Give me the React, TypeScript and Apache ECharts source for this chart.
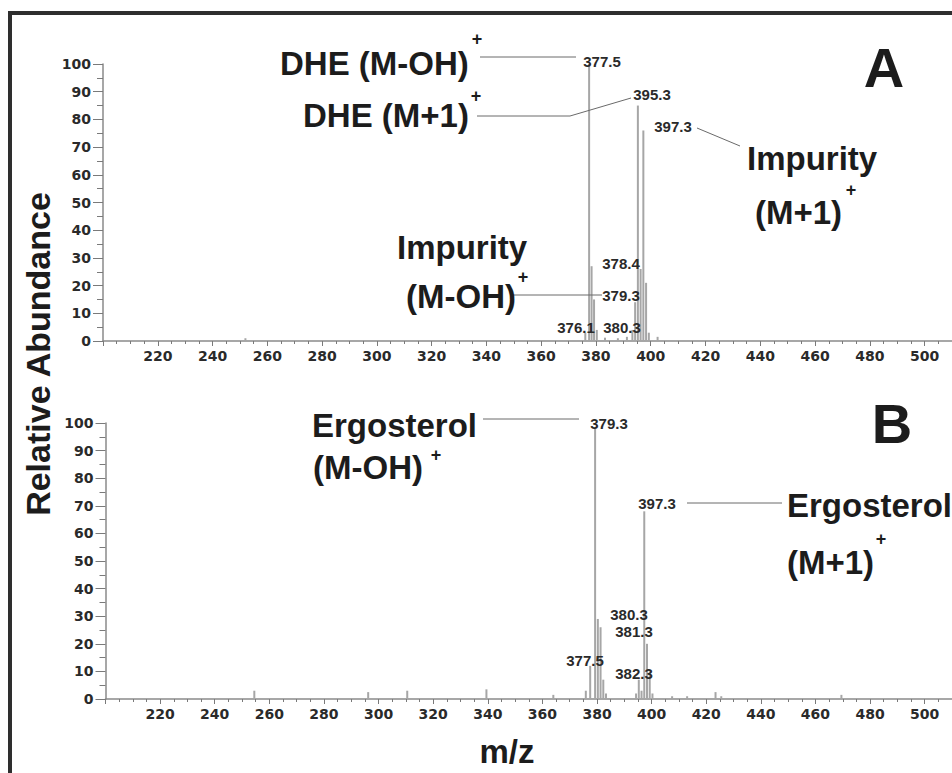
import React, { useEffect, useRef } from "react";
import * as echarts from "echarts";

// ---------- data ----------
// Panel A: DHE sample (m/z, relative abundance %)
const mzA = [252.0, 376.1, 377.5, 378.4, 379.3, 380.3, 383.3, 388.0, 391.3, 393.3, 394.3, 395.3, 396.3, 397.3, 398.3, 399.3, 402.5];
const intA = [1, 3, 100, 27, 15, 4, 1.2, 1, 1.5, 4, 14, 85, 26, 76, 21, 3, 1.5];

// Panel B: Ergosterol standard
const mzB = [254.5, 296.2, 310.5, 339.5, 364.0, 375.9, 377.5, 379.3, 380.3, 381.3, 382.3, 383.3, 394.3, 395.3, 396.3, 397.3, 398.3, 399.3, 400.3, 407.5, 413.0, 423.4, 425.5, 469.5];
const intB = [3, 2.5, 3, 3.5, 1.5, 3, 12, 98, 29, 26, 7, 2, 2, 7, 3, 68, 20, 10, 2, 1, 1, 2.5, 1, 1.5];

// axis ranges
const X_MIN = 200;
const X_MAX = 510;
const X_STEP = 20;
const Y_MIN = 0;
const Y_MAX = 100;
const Y_STEP = 10;

// peak labels (text)
const peakLabelsA = ["377.5", "395.3", "397.3", "378.4", "379.3", "380.3", "376.1"];
const peakLabelsB = ["379.3", "380.3", "381.3", "377.5", "382.3", "397.3"];

const FONT = '"Liberation Sans", Arial, Helvetica, sans-serif';
const AXFONT = '"DejaVu Sans", Verdana, sans-serif';

function txt(text: string, x: number, y: number, size: number, align: string = "left", extra: any = {}) {
  return {
    type: "text",
    x,
    y,
    z: 100,
    style: {
      text,
      font: `bold ${size}px ${FONT}`,
      fill: "#1c1c1c",
      textAlign: align,
      textVerticalAlign: "middle",
      align,
      verticalAlign: "middle",
    },
    ...extra,
  };
}

function peakTxt(text: string, x: number, y: number) {
  return {
    type: "text",
    x,
    y,
    z: 100,
    style: {
      text,
      font: `bold 15px ${FONT}`,
      fill: "#2a2a2a",
      textAlign: "center",
      textVerticalAlign: "middle",
      align: "center",
      verticalAlign: "middle",
    },
  };
}

function seg(x1: number, y1: number, x2: number, y2: number) {
  return {
    type: "line",
    z: 90,
    shape: { x1, y1, x2, y2 },
    style: { stroke: "#6a6a6a", lineWidth: 1 },
  };
}

function xAxisCfg(gridIndex: number) {
  return {
    type: "value",
    gridIndex,
    min: X_MIN,
    max: X_MAX,
    interval: X_STEP,
    axisLine: { show: true, onZero: false, lineStyle: { color: "#8a8a8a", width: 1.5 } },
    axisTick: { show: true, inside: false, length: 5, lineStyle: { color: "#7a7a7a", width: 1 } },
    minorTick: { show: true, splitNumber: 4, length: 3, lineStyle: { color: "#7a7a7a", width: 1 } },
    splitLine: { show: false },
    minorSplitLine: { show: false },
    axisLabel: {
      show: true,
      showMinLabel: false,
      showMaxLabel: false,
      margin: 8,
      color: "#2a2a2a",
      fontWeight: "bold",
      fontSize: 14,
      fontFamily: AXFONT,
    },
  };
}

function yAxisCfg(gridIndex: number) {
  return {
    type: "value",
    gridIndex,
    min: Y_MIN,
    max: Y_MAX,
    interval: Y_STEP,
    axisLine: { show: true, lineStyle: { color: "#8a8a8a", width: 1.5 } },
    axisTick: { show: true, inside: false, length: 10, lineStyle: { color: "#7a7a7a", width: 1 } },
    minorTick: { show: true, splitNumber: 2, length: 6, lineStyle: { color: "#7a7a7a", width: 1 } },
    splitLine: { show: false },
    minorSplitLine: { show: false },
    axisLabel: {
      show: true,
      margin: 12,
      color: "#2a2a2a",
      fontWeight: "bold",
      fontSize: 14,
      fontFamily: AXFONT,
    },
  };
}

export default function App() {
  const ref = useRef<HTMLDivElement>(null);

  useEffect(() => {
    if (!ref.current) return;
    const chart = echarts.init(ref.current, null, { renderer: "svg" });

    const dataA = mzA.map((m, i) => [m, intA[i]]);
    const dataB = mzB.map((m, i) => [m, intB[i]]);

    const graphics: any[] = [
      // outer frame
      {
        type: "rect",
        z: 80,
        shape: { x: 10, y: 13, width: 1000, height: 820 },
        style: { fill: "none", stroke: "#2e2e2e", lineWidth: 4 },
      },
      // axis titles
      txt("Relative Abundance", 38, 354, 34, "center", { rotation: Math.PI / 2 }),
      txt("m/z", 507, 751, 33, "center"),
      // panel letters
      txt("A", 884, 67, 56, "center"),
      txt("B", 892, 423, 56, "center"),

      // ---- Panel A annotations ----
      txt("DHE (M-OH)", 280, 63, 33),
      txt("+", 477, 39, 18, "center"),
      seg(480, 57, 576, 57),
      peakTxt(peakLabelsA[0], 602, 61),

      txt("DHE (M+1)", 303, 115, 33),
      txt("+", 476, 96, 18, "center"),
      {
        type: "polyline",
        z: 90,
        shape: { points: [[477, 116], [570, 116], [631, 98]] },
        style: { stroke: "#6a6a6a", lineWidth: 1, fill: "none" },
      },
      peakTxt(peakLabelsA[1], 652, 94),
      peakTxt(peakLabelsA[2], 673, 126),
      seg(697, 128, 740, 146),
      txt("Impurity", 747, 158, 33),
      txt("(M+1)", 755, 212, 33),
      txt("+", 851, 190, 18, "center"),

      txt("Impurity", 397, 247, 33),
      txt("(M-OH)", 406, 296, 33),
      txt("+", 523, 277, 18, "center"),
      seg(513, 295, 602, 295),
      peakTxt(peakLabelsA[3], 621, 263),
      peakTxt(peakLabelsA[4], 621, 295),
      peakTxt(peakLabelsA[5], 622, 327),
      peakTxt(peakLabelsA[6], 576, 327),

      // ---- Panel B annotations ----
      txt("Ergosterol", 312, 425, 33),
      txt("(M-OH)", 313, 467, 33),
      txt("+", 436, 455, 18, "center"),
      seg(483, 419, 579, 419),
      peakTxt(peakLabelsB[0], 609, 423),
      peakTxt(peakLabelsB[1], 629, 614),
      peakTxt(peakLabelsB[2], 634, 631),
      peakTxt(peakLabelsB[3], 585, 660),
      peakTxt(peakLabelsB[4], 634, 673),
      peakTxt(peakLabelsB[5], 657, 503),
      seg(687, 503, 782, 503),
      txt("Ergosterol", 787, 505, 33),
      txt("(M+1)", 787, 562, 33),
      txt("+", 881, 539, 18, "center"),
    ];

    chart.setOption({
      animation: false,
      backgroundColor: "#ffffff",
      grid: [
        { left: 103, top: 64, width: 868, height: 277, containLabel: false },
        { left: 105.5, top: 423, width: 868, height: 276, containLabel: false },
      ],
      xAxis: [xAxisCfg(0), xAxisCfg(1)],
      yAxis: [yAxisCfg(0), yAxisCfg(1)],
      series: [
        {
          type: "bar",
          xAxisIndex: 0,
          yAxisIndex: 0,
          data: dataA,
          barWidth: 2,
          itemStyle: { color: "#a6a6a6" },
          silent: true,
        },
        {
          type: "bar",
          xAxisIndex: 1,
          yAxisIndex: 1,
          data: dataB,
          barWidth: 2,
          itemStyle: { color: "#a6a6a6" },
          silent: true,
        },
      ],
      graphic: graphics,
    });

    return () => {
      chart.dispose();
    };
  }, []);

  return (
    <div
      ref={ref}
      style={{ position: "absolute", left: 0, top: 0, width: 952, height: 773, background: "#fff" }}
    />
  );
}
